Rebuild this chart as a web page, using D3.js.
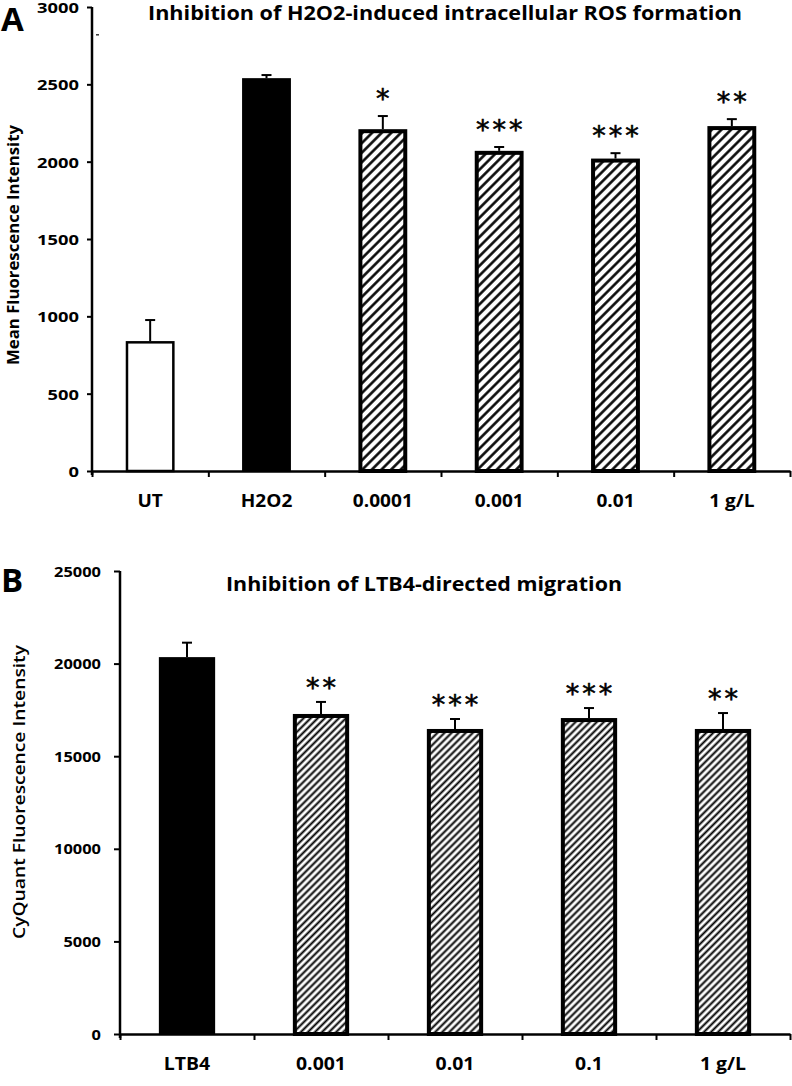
<!DOCTYPE html>
<html>
<head>
<meta charset="utf-8">
<script src="https://cdn.jsdelivr.net/npm/d3@7"></script>
<style>
  html, body { margin: 0; padding: 0; background: #fff; }
  svg { display: block; }
  text { fill: #000; }
</style>
</head>
<body>
<svg id="chart" width="792" height="1086"></svg>
<script>
// ---------------- Data ----------------
const catsA   = ["UT", "H2O2", "0.0001", "0.001", "0.01", "1 g/L"];
const valsA   = [840, 2540, 2210, 2070, 2020, 2230];
const errA    = [136, 20, 85, 25, 35, 45];
const starsA  = ["", "", "*", "***", "***", "**"];
const fillsA  = ["open", "solid", "hatch", "hatch", "hatch", "hatch"];
const ticksA  = [0, 500, 1000, 1500, 2000, 2500, 3000];
const titleA  = "Inhibition of H2O2-induced intracellular ROS formation";
const ylabA   = "Mean Fluorescence Intensity";

const catsB   = ["LTB4", "0.001", "0.01", "0.1", "1 g/L"];
const valsB   = [20350, 17280, 16470, 17060, 16470];
const errB    = [780, 650, 540, 540, 860];
const starsB  = ["", "**", "***", "***", "**"];
const fillsB  = ["solid", "hatch", "hatch", "hatch", "hatch"];
const ticksB  = [0, 5000, 10000, 15000, 20000, 25000];
const titleB  = "Inhibition of LTB4-directed migration";
const ylabB   = "CyQuant Fluorescence Intensity";

// ---------------- Setup ----------------
const svg = d3.select("#chart");
const FONT = "'Open Sans', 'Liberation Sans', sans-serif";
const defs = svg.append("defs");

function hatch(id, spacing, sw) {
  const p = defs.append("pattern")
    .attr("id", id)
    .attr("patternUnits", "userSpaceOnUse")
    .attr("width", spacing).attr("height", spacing)
    .attr("patternTransform", "rotate(45)");
  p.append("rect").attr("width", spacing).attr("height", spacing).attr("fill", "#fff");
  p.append("line").attr("x1", spacing / 2).attr("x2", spacing / 2)
    .attr("y1", 0).attr("y2", spacing)
    .attr("stroke", "#000").attr("stroke-width", sw);
}
hatch("hatchA", 6.8, 2.5);
hatch("hatchB", 5.0, 2.0);

function measure(str, size, weight) {
  const t = svg.append("text").attr("font-family", FONT)
    .attr("font-size", size).attr("font-weight", weight).text(str);
  const w = t.node().getComputedTextLength();
  t.remove();
  return w;
}

function panel(cfg) {
  const g = svg.append("g");
  const y = d3.scaleLinear().domain(cfg.domain).range([cfg.y0, cfg.y1]);
  const x = d3.scaleBand().domain(cfg.cats).range([cfg.x0, cfg.x1])
    .paddingInner(0.58).paddingOuter(0.29);
  const xi = d3.scaleLinear().domain([0, cfg.cats.length]).range([cfg.x0, cfg.x1]);

  const bw = x.bandwidth();
  cfg.cats.forEach((c, i) => {
    const v = cfg.vals[i];
    const kind = cfg.fills[i];
    const top = y(v), bot = y(0);
    if (kind === "solid") {
      g.append("rect").attr("x", x(c)).attr("y", top)
        .attr("width", bw).attr("height", bot - top).attr("fill", "#000");
    } else {
      const sw = kind === "hatch" ? cfg.hatchStroke : 2.5;
      g.append("rect").attr("x", x(c) + sw / 2).attr("y", top + sw / 2)
        .attr("width", bw - sw).attr("height", bot - top - sw / 2)
        .attr("fill", kind === "hatch" ? `url(#${cfg.pattern})` : "#fff")
        .attr("stroke", "#000").attr("stroke-width", sw);
    }
    const cx = x(c) + bw / 2;
    const et = y(v + cfg.errs[i]);
    g.append("line").attr("x1", cx).attr("x2", cx).attr("y1", top).attr("y2", et)
      .attr("stroke", "#000").attr("stroke-width", 2);
    g.append("line").attr("x1", cx - 5).attr("x2", cx + 5).attr("y1", et).attr("y2", et)
      .attr("stroke", "#000").attr("stroke-width", 2);
    if (cfg.stars[i]) {
      const fs = 27, ls = 3;
      g.append("text")
        .attr("x", cx + ls / 2).attr("y", et - cfg.starGap + 0.58 * fs)
        .attr("text-anchor", "middle")
        .attr("font-family", "'DejaVu Sans', sans-serif")
        .attr("font-weight", 400)
        .attr("font-size", fs).attr("letter-spacing", ls)
        .attr("stroke", "#000").attr("stroke-width", 0.6)
        .text(cfg.stars[i]);
    }
  });

  // y axis
  const sxY = cfg.yTickTarget / measure(cfg.yTickSample, cfg.yTickSize, 700);
  const ya = g.append("g").attr("transform", `translate(${cfg.x0},0)`)
    .call(d3.axisLeft(y).tickValues(cfg.ticks).tickFormat(d3.format("d"))
      .tickSize(cfg.yTickLen).tickSizeOuter(0).tickPadding(0));
  ya.select(".domain").attr("stroke", "#000").attr("stroke-width", 2.5)
    .attr("d", `M0,${cfg.y0 + 4}V${cfg.y1}`);
  ya.selectAll(".tick line").attr("stroke", "#000").attr("stroke-width", 2);
  ya.selectAll(".tick text")
    .attr("font-family", FONT).attr("font-size", cfg.yTickSize).attr("font-weight", 700)
    .attr("fill", "#000")
    .attr("x", -cfg.yLabelGap / sxY)
    .attr("dy", "0.36em")
    .attr("transform", `scale(${sxY},1)`);
  ya.attr("font-family", null).attr("font-size", null);

  // x axis line + boundary ticks
  const xa = g.append("g").attr("transform", `translate(0,${cfg.y0})`)
    .call(d3.axisBottom(xi).tickValues(d3.range(cfg.cats.length + 1)).tickFormat("")
      .tickSize(6).tickSizeOuter(0));
  xa.select(".domain").attr("stroke", "#000").attr("stroke-width", 2.5);
  xa.selectAll(".tick line").attr("stroke", "#000").attr("stroke-width", 2);

  // category labels
  const sxX = cfg.xLabTarget / measure(cfg.xLabSample, cfg.xLabSize, 700);
  const xl = g.append("g").attr("transform", `translate(0,${cfg.xLabBase})`)
    .call(d3.axisBottom(x).tickSize(0).tickPadding(0));
  xl.select(".domain").remove();
  xl.selectAll(".tick text")
    .attr("font-family", FONT).attr("font-size", cfg.xLabSize).attr("font-weight", 700)
    .attr("fill", "#000").attr("y", 0).attr("dy", 0)
    .attr("transform", `scale(${sxX},1)`);
  xl.attr("font-family", null).attr("font-size", null);

  // title
  g.append("text")
    .attr("x", cfg.titleX).attr("y", cfg.titleY)
    .attr("text-anchor", "middle")
    .attr("font-family", FONT).attr("font-size", cfg.titleSize).attr("font-weight", 700)
    .attr("textLength", cfg.titleLen).attr("lengthAdjust", "spacingAndGlyphs")
    .text(cfg.title);

  // y label
  g.append("text")
    .attr("transform", `translate(${cfg.ylabX},${cfg.ylabY}) rotate(-90)`)
    .attr("text-anchor", "middle")
    .attr("font-family", FONT).attr("font-size", cfg.ylabSize).attr("font-weight", cfg.ylabWeight)
    .attr("textLength", cfg.ylabLen).attr("lengthAdjust", "spacingAndGlyphs")
    .text(cfg.ylab);

  // panel letter
  g.append("text")
    .attr("x", 1).attr("y", cfg.letterY)
    .attr("font-family", FONT).attr("font-size", 33).attr("font-weight", 700)
    .text(cfg.letter);

  // small stray mark present in the original figure
  if (cfg.mark) {
    g.append("line").attr("x1", cfg.x0 + 4).attr("x2", cfg.x0 + 7)
      .attr("y1", y(cfg.mark)).attr("y2", y(cfg.mark))
      .attr("stroke", "#000").attr("stroke-width", 1.2);
  }
}

panel({
  cats: catsA, vals: valsA, errs: errA, stars: starsA, fills: fillsA, ticks: ticksA,
  domain: [0, 3000], y0: 471, y1: 7, x0: 92, x1: 790, mark: 2820,
  pattern: "hatchA", hatchStroke: 4, starGap: 24,
  yTickSize: 15, yTickSample: "3000", yTickTarget: 42, yTickLen: 5, yLabelGap: 13,
  xLabSize: 18, xLabSample: "0.0001", xLabTarget: 60, xLabBase: 507,
  title: titleA, titleX: 445, titleY: 20, titleSize: 19, titleLen: 594,
  ylab: ylabA, ylabX: 19, ylabY: 245, ylabSize: 16, ylabWeight: 700, ylabLen: 240,
  letter: "A", letterY: 31
});

panel({
  cats: catsB, vals: valsB, errs: errB, stars: starsB, fills: fillsB, ticks: ticksB,
  domain: [0, 25000], y0: 1034, y1: 571, x0: 120, x1: 790,
  pattern: "hatchB", hatchStroke: 4, starGap: 21,
  yTickSize: 14, yTickSample: "20000", yTickTarget: 47, yTickLen: 6, yLabelGap: 19,
  xLabSize: 18, xLabSample: "0.001", xLabTarget: 50, xLabBase: 1070,
  title: titleB, titleX: 424, titleY: 591, titleSize: 20, titleLen: 396,
  ylab: ylabB, ylabX: 25, ylabY: 792, ylabSize: 17, ylabWeight: 600, ylabLen: 294,
  letter: "B", letterY: 592
});
</script>
</body>
</html>
